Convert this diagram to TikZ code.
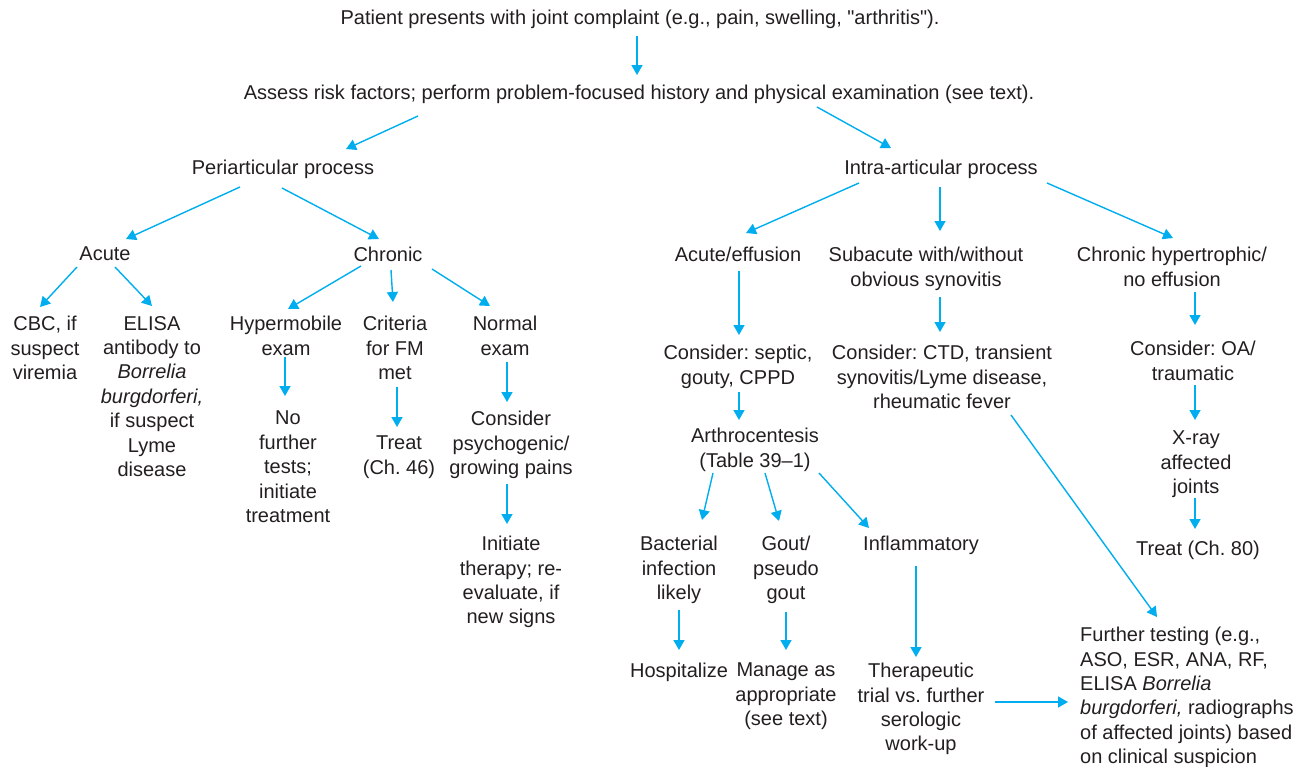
\documentclass[tikz,border=0pt]{standalone}
\usepackage{fontspec}
\setmainfont{Liberation Sans}[Ligatures=TeXOff]
\usetikzlibrary{positioning, arrows.meta, calc}
\definecolor{inkgray}{RGB}{35,31,32}
\definecolor{flowblue}{RGB}{0,174,239}
\frenchspacing

\tikzset{
  txt/.style={font=\fontsize{20}{24.4}\selectfont, text=inkgray,
              align=center, anchor=north, inner sep=0pt},
  arr/.style={draw=flowblue, line width=1.4pt,
              -{Triangle[length=10pt,width=11pt]}}
}

\begin{document}
\begin{tikzpicture}[x=1pt, y=-1pt]

  \useasboundingbox (0,0) rectangle (1308,766);

  % ============================================================
  %  Top of the chart
  % ============================================================
  \node[txt] (top) at (640,10)
    {Patient presents with joint complaint (e.g., pain, swelling, "arthritis").};
  \node[txt] (assess) at (639,85)
    {Assess risk factors; perform problem-focused history and physical examination (see text).};

  \node[txt] (peri)  at (283,160) {Periarticular process};
  \node[txt] (intra) at (941,160) {Intra-articular process};

  \draw[arr] ($(top.north)+(-3,26)$) -- ($(assess.north)+(-2,-10)$);
  \draw[arr] ($(assess.north)+(-221,31)$) -- ($(peri.north)+(63,-11)$);
  \draw[arr] ($(assess.north)+(178,22)$) -- ($(intra.north)+(-50,-12)$);

  % ============================================================
  %  Periarticular branch
  % ============================================================
  \node[txt] (acute)   at (105,247) {Acute};
  \node[txt] (chronic) at (388,247) {Chronic};

  \node[txt] (cbc)   at (45,316)  {CBC, if\\suspect\\viremia};
  \node[txt] (elisa) at (152,316)
    {ELISA\\antibody to\\\textit{Borrelia}\\\textit{burgdorferi,}\\if suspect\\Lyme\\disease};
  \node[txt] (hyper)    at (286,316) {Hypermobile\\exam};
  \node[txt] (criteria) at (395,316) {Criteria\\for FM\\met};
  \node[txt] (normal)   at (505,316) {Normal\\exam};

  \node[txt] (nofurther) at (288,411) {No\\further\\tests;\\initiate\\treatment};
  \node[txt] (treatfm)   at (399,436) {Treat\\(Ch. 46)};
  \node[txt] (psych)     at (511,411) {Consider\\psychogenic/\\growing pains};
  \node[txt] (initiate)  at (511,536) {Initiate\\therapy; re-\\evaluate, if\\new signs};

  \draw[arr] ($(peri.north)+(-43,27)$) -- ($(acute.north)+(21,-8)$);
  \draw[arr] ($(peri.north)+(-1,28)$) -- ($(chronic.north)+(-9,-8)$);
  \draw[arr] ($(acute.north)+(-28,20)$) -- ($(cbc.north)+(-5,-9)$);
  \draw[arr] ($(acute.north)+(10,20)$) -- ($(elisa.north)+(0,-10)$);
  \draw[arr] ($(chronic.north)+(-27,19)$) -- ($(hyper.north)+(2,-7)$);
  \draw[arr] ($(chronic.north)+(3,23)$) -- ($(criteria.north)+(-2,-14)$);
  \draw[arr] ($(chronic.north)+(44,22)$) -- ($(normal.north)+(-15,-10)$);
  \draw[arr] ($(hyper.north)+(-1,41)$) -- ($(nofurther.north)+(-3,-15)$);
  \draw[arr] ($(criteria.north)+(2,71)$) -- ($(treatfm.north)+(-2,-9)$);
  \draw[arr] ($(normal.north)+(2,46)$) -- ($(psych.north)+(-4,-9)$);
  \draw[arr] ($(psych.north)+(-4,73)$) -- ($(initiate.north)+(-4,-12)$);

  % ============================================================
  %  Intra-articular branch
  % ============================================================
  \node[txt] (acuteeff) at (738,247)  {Acute/effusion};
  \node[txt] (subacute) at (926,247)  {Subacute with/without\\obvious synovitis};
  \node[txt] (chronhyp) at (1172,247) {Chronic hypertrophic/\\no effusion};

  \node[txt] (septic) at (738,345)  {Consider: septic,\\gouty, CPPD};
  \node[txt] (ctd)    at (942,345)
    {Consider: CTD, transient\\synovitis/Lyme disease,\\rheumatic fever};
  \node[txt] (oa)     at (1193,341) {Consider: OA/\\traumatic};

  \node[txt] (arthro)  at (755,428)  {Arthrocentesis\\(Table 39–1)};
  \node[txt] (xray)    at (1196,431) {X-ray\\affected\\joints};
  \node[txt] (treat80) at (1198,541) {Treat (Ch. 80)};

  \node[txt] (bact)   at (679,536) {Bacterial\\infection\\likely};
  \node[txt] (gout)   at (786,536) {Gout/\\pseudo\\gout};
  \node[txt] (inflam) at (921,536) {Inflammatory};

  \node[txt] (hosp)   at (679,663) {Hospitalize};
  \node[txt] (manage) at (786,663) {Manage as\\appropriate\\(see text)};
  \node[txt] (therap) at (921,663)
    {Therapeutic\\trial vs. further\\serologic\\work-up};

  \node[txt, align=left, anchor=north west] (further) at (1080,627)
    {Further testing (e.g.,\\ASO, ESR, ANA, RF,\\ELISA \textit{Borrelia}\\%
     \textit{burgdorferi,} radiographs\\of affected joints) based\\on clinical suspicion};

  \draw[arr] ($(intra.north)+(-82,23)$) -- ($(acuteeff.north)+(8,-14)$);
  \draw[arr] ($(intra.north)+(-1,27)$) -- ($(subacute.north)+(14,-16)$);
  \draw[arr] ($(intra.north)+(106,23)$) -- ($(chronhyp.north)+(1,-9)$);
  \draw[arr] ($(acuteeff.north)+(1,24)$) -- ($(septic.north)+(1,-10)$);
  \draw[arr] ($(septic.north)+(1,47)$) -- ($(arthro.north)+(-16,-8)$);
  \draw[arr] ($(arthro.north)+(-42,45)$) -- ($(bact.north)+(23,-16)$);
  \draw[arr] ($(arthro.north)+(10,45)$) -- ($(gout.north)+(-7,-15)$);
  \draw[arr] ($(arthro.north)+(64,45)$) -- ($(inflam.north)+(-52,-8)$);
  \draw[arr] ($(bact.north)+(0,74)$) -- ($(hosp.north)+(0,-13)$);
  \draw[arr] ($(gout.north)+(0,76)$) -- ($(manage.north)+(0,-13)$);
  \draw[arr] ($(inflam.north)+(-5,30)$) -- ($(therap.north)+(-5,-6)$);
  \draw[arr] ($(therap.north)+(74,39)$) -- ($(further.north west)+(-12,75)$);
  \draw[arr] ($(subacute.north)+(14,50)$) -- ($(ctd.north)+(-2,-13)$);
  \draw[arr] ($(ctd.north)+(69,70)$) -- ($(further.north west)+(77,-10)$);
  \draw[arr] ($(chronhyp.north)+(23,45)$) -- ($(oa.north)+(2,-16)$);
  \draw[arr] ($(oa.north)+(2,44)$) -- ($(xray.north)+(-1,-11)$);
  \draw[arr] ($(xray.north)+(-1,67)$) -- ($(treat80.north)+(-3,-12)$);

\end{tikzpicture}
\end{document}
